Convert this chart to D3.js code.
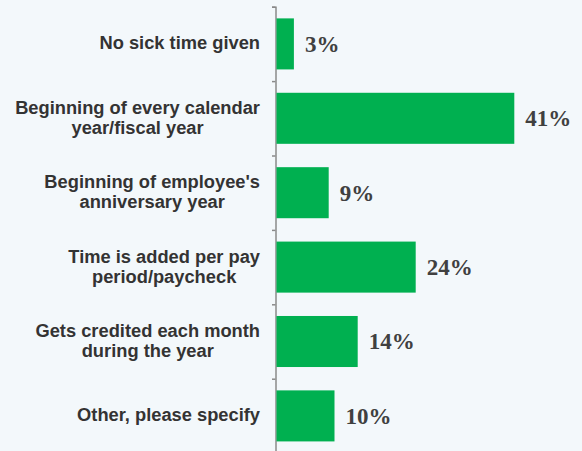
<!DOCTYPE html>
<html>
<head>
<meta charset="utf-8">
<script src="https://cdn.jsdelivr.net/npm/d3@7"></script>
<style>
  html, body { margin: 0; padding: 0; background: #f3f8fb; }
  svg { display: block; }
</style>
</head>
<body>
<svg id="chart" width="582" height="451"></svg>
<script>
// How sick time is credited — share of respondents (%)
const categories = [
  ["No sick time given"],
  ["Beginning of every calendar", "year/fiscal year"],
  ["Beginning of employee's", "anniversary year"],
  ["Time is added per pay", "period/paycheck"],
  ["Gets credited each month", "during the year"],
  ["Other, please specify"]
];
const values = [3, 41, 9, 24, 14, 10];
const valueLabels = ["3%", "41%", "9%", "24%", "14%", "10%"];

const svg = d3.select("#chart");
const axisX = 275.5;
const plotTop = 6.7, plotBottom = 453.1;
const labelRight = 260;

const idx = d3.range(categories.length);

const y = d3.scaleBand()
  .domain(idx)
  .range([plotTop, plotBottom])
  .paddingInner(0.314)
  .paddingOuter(0.157);

const x = d3.scaleLinear()
  .domain([0, 50])
  .range([276.5, 276.5 + 290]);

// Category axis with ticks at band boundaries
const edges = d3.scaleLinear().domain([0, categories.length]).range([plotTop, plotBottom]);
const axis = d3.axisLeft(edges)
  .tickValues(d3.range(categories.length + 1))
  .tickSize(3.5)
  .tickFormat("");

svg.append("g")
  .attr("transform", `translate(${axisX},0)`)
  .call(axis)
  .call(g => g.selectAll("path, line").attr("stroke", "#8a8a8a").attr("stroke-width", 1.5));

// Bars
svg.append("g")
  .selectAll("rect")
  .data(idx)
  .join("rect")
  .attr("x", x(0))
  .attr("y", i => y(i))
  .attr("width", i => x(values[i]) - x(0))
  .attr("height", y.bandwidth())
  .attr("fill", "#00b050");

// Category labels: each block is centred, with its widest line ending at labelRight
const lineH = 20;
const labels = svg.append("g")
  .attr("font-family", "'Liberation Sans', Arial, sans-serif")
  .attr("font-weight", "bold")
  .attr("font-size", 18.3)
  .attr("fill", "#333333")
  .attr("text-anchor", "middle");

labels.selectAll("text")
  .data(idx)
  .join("text")
  .attr("y", i => y(i) + y.bandwidth() / 2)
  .each(function(i) {
    const lines = categories[i];
    const off = -(lines.length - 1) / 2 * lineH;
    const t = d3.select(this);
    const spans = t.selectAll("tspan")
      .data(lines)
      .join("tspan")
      .attr("dy", (d, k) => k === 0 ? (off + 5.4) : lineH)
      .text(d => d);
    let maxW = 0;
    spans.each(function() { maxW = Math.max(maxW, this.getComputedTextLength()); });
    spans.attr("x", labelRight - maxW / 2);
  });

// Value labels
svg.append("g")
  .attr("font-family", "'Liberation Serif', 'Times New Roman', serif")
  .attr("font-weight", "bold")
  .attr("font-size", 23)
  .attr("fill", "#404040")
  .selectAll("text")
  .data(idx)
  .join("text")
  .attr("x", i => x(values[i]) + 11)
  .attr("y", i => y(i) + y.bandwidth() / 2 + 7.8)
  .text(i => valueLabels[i]);
</script>
</body>
</html>
